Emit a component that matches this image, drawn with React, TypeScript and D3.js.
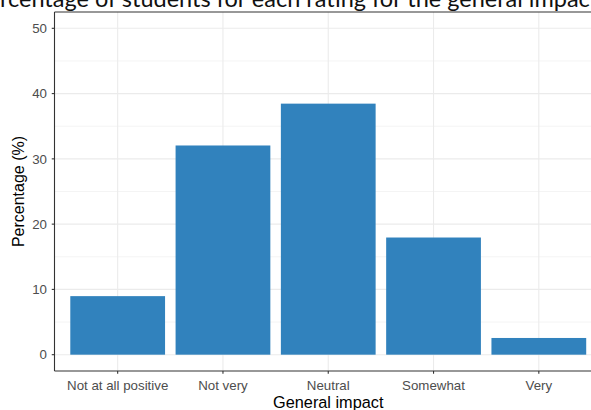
import React from "react";
import * as d3 from "d3";

const categories = ["Not at all positive", "Not very", "Neutral", "Somewhat", "Very"];
const percentages = [8.97, 32.05, 38.46, 17.95, 2.56];
const yTicks = [0, 10, 20, 30, 40, 50];
const yMinor = [5, 15, 25, 35, 45];

const title = "Percentage of students for each rating for the general impact";
const xTitle = "General impact";
const yTitle = "Percentage (%)";

const W = 591;
const H = 410;
const panel = { left: 54.5, top: 12, right: 602, bottom: 371 };
const font = "'Liberation Sans', Arial, sans-serif";

export default function App() {
  const x = d3
    .scaleLinear()
    .domain([0.4, categories.length + 0.6])
    .range([panel.left, panel.right]);
  const y = d3.scaleLinear().domain([-2.5, 52.5]).range([panel.bottom, panel.top]);
  const barW = x(1.9) - x(1);
  const midX = (panel.left + panel.right) / 2;
  const midY = (panel.top + panel.bottom) / 2;

  return (
    <svg
      width={W}
      height={H}
      style={{ position: "absolute", left: 0, top: 0, background: "#fff" }}
    >
      <defs>
        <clipPath id="panel">
          <rect
            x={panel.left}
            y={panel.top}
            width={panel.right - panel.left}
            height={panel.bottom - panel.top}
          />
        </clipPath>
      </defs>

      {/* cropped title from the original figure */}
      <text x={-26} y={7} fontFamily="Lato, 'Open Sans', sans-serif" fontSize={23.5} fill="#111">
        {title}
      </text>

      <g clipPath="url(#panel)">
        {yMinor.map((v) => (
          <line key={"mn" + v} x1={panel.left} x2={panel.right} y1={y(v)} y2={y(v)} stroke="#EBEBEB" strokeWidth={0.55} />
        ))}
        {yTicks.map((v) => (
          <line key={"mj" + v} x1={panel.left} x2={panel.right} y1={y(v)} y2={y(v)} stroke="#EBEBEB" strokeWidth={1.1} />
        ))}
        {categories.map((c, i) => (
          <line key={"vx" + c} x1={x(i + 1)} x2={x(i + 1)} y1={panel.top} y2={panel.bottom} stroke="#EBEBEB" strokeWidth={1.1} />
        ))}
        {percentages.map((p, i) => (
          <rect
            key={categories[i]}
            x={x(i + 1) - barW / 2}
            y={y(p)}
            width={barW}
            height={y(0) - y(p)}
            fill="#3182BD"
          />
        ))}
      </g>

      {/* panel border: right side lies outside the cropped image */}
      <line x1={panel.left} x2={panel.right} y1={panel.top} y2={panel.top} stroke="#333333" strokeWidth={1.1} />
      <line x1={panel.left} x2={panel.right} y1={panel.bottom} y2={panel.bottom} stroke="#333333" strokeWidth={1.1} />
      <line x1={panel.left} x2={panel.left} y1={panel.top} y2={panel.bottom} stroke="#333333" strokeWidth={1.1} />

      {yTicks.map((v) => (
        <g key={"yt" + v}>
          <line x1={panel.left - 2.75} x2={panel.left} y1={y(v)} y2={y(v)} stroke="#333333" strokeWidth={1.1} />
          <text
            x={panel.left - 7.5}
            y={y(v)}
            dy="0.35em"
            textAnchor="end"
            fontFamily={font}
            fontSize={13.3}
            fill="#4D4D4D"
          >
            {v}
          </text>
        </g>
      ))}

      {categories.map((c, i) => (
        <g key={"xt" + c}>
          <line x1={x(i + 1)} x2={x(i + 1)} y1={panel.bottom} y2={panel.bottom + 2.75} stroke="#333333" strokeWidth={1.1} />
          <text
            x={x(i + 1)}
            y={389.5}
            textAnchor="middle"
            fontFamily={font}
            fontSize={13.3}
            fill="#4D4D4D"
          >
            {c}
          </text>
        </g>
      ))}

      <text x={midX} y={408} textAnchor="middle" fontFamily={font} fontSize={16.3} fill="#000">
        {xTitle}
      </text>
      <text
        transform={`translate(24,${midY}) rotate(-90)`}
        textAnchor="middle"
        fontFamily={font}
        fontSize={16}
        fill="#000"
      >
        {yTitle}
      </text>
    </svg>
  );
}
